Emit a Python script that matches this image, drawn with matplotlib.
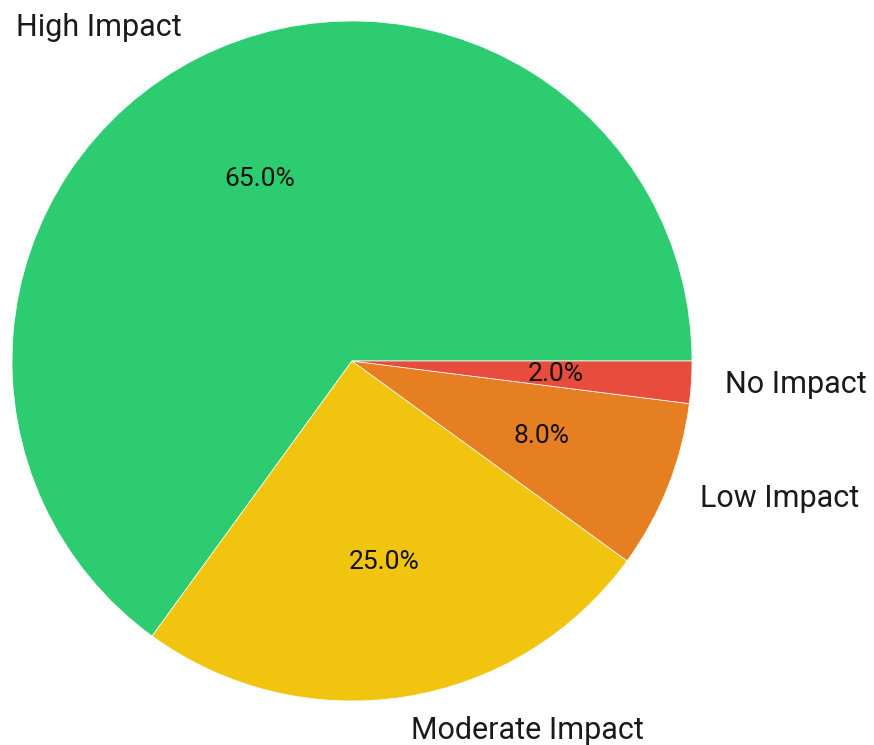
import matplotlib
matplotlib.use("Agg")
import matplotlib.pyplot as plt

labels = ["High Impact", "Moderate Impact", "Low Impact", "No Impact"]
shares = [65.0, 25.0, 8.0, 2.0]
colors = ["#2ecc71", "#f1c40f", "#e67e22", "#e74c3c"]

plt.rcParams["font.family"] = ["Roboto", "DejaVu Sans"]

fig = plt.figure(figsize=(8.74, 7.45), dpi=100)
ax = fig.add_axes([0, 0, 1, 1])
wedges, texts, autotexts = ax.pie(
    shares, labels=labels, colors=colors, autopct="%1.1f%%",
    startangle=0, radius=1.0,
    wedgeprops={"edgecolor": "white", "linewidth": 0.5},
    textprops={"fontsize": 22, "color": "#1a1a1a"},
)
for t in autotexts:
    t.set_fontsize(19)
    t.set_color("#111111")

r_px = 340.0
ax.set_xlim(-352 / r_px, (874 - 352) / r_px)
ax.set_ylim(-(745 - 361) / r_px, 361 / r_px)
ax.set_aspect("auto")
ax.axis("off")

fig.savefig("out.png", dpi=100)
